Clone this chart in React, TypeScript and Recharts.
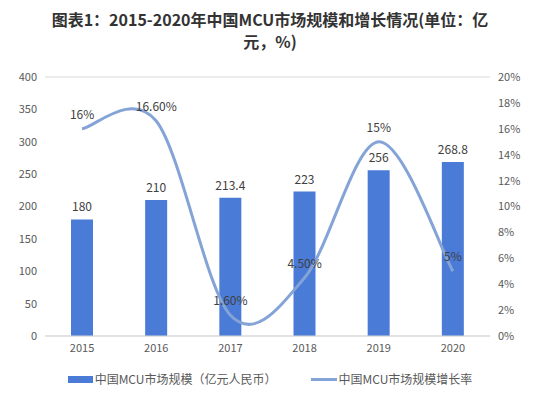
import React from "react";
import {
  ComposedChart,
  Bar,
  Line,
  XAxis,
  YAxis,
  CartesianGrid,
  Legend,
  LabelList,
} from "recharts";

const years = ["2015", "2016", "2017", "2018", "2019", "2020"];
const marketSize = [180, 210, 213.4, 223, 256, 268.8];
const growth = [16, 16.6, 1.6, 4.5, 15, 5];
const growthLabels = ["16%", "16.60%", "1.60%", "4.50%", "15%", "5%"];
const leftTicks = [0, 50, 100, 150, 200, 250, 300, 350, 400];
const rightTicks = [0, 2, 4, 6, 8, 10, 12, 14, 16, 18, 20];

const data = years.map((year, i) => ({
  year,
  size: marketSize[i],
  growth: growth[i],
  growthLabel: growthLabels[i],
}));

const barColor = "#4a7bd6";
const lineColor = "#84a3d6";
const font = "'Noto Sans CJK SC', 'Noto Sans', sans-serif";

// Catmull-Rom style smoothing, close to the spreadsheet "smoothed line"
const smoothCurve = (ctx: any) => {
  let pts: [number, number][] = [];
  return {
    areaStart() {},
    areaEnd() {},
    lineStart() {
      pts = [];
    },
    point(x: number, y: number) {
      pts.push([x, y]);
    },
    lineEnd() {
      if (!pts.length) return;
      ctx.moveTo(pts[0][0], pts[0][1]);
      for (let i = 0; i < pts.length - 1; i++) {
        const p0 = pts[i - 1] || pts[i];
        const p1 = pts[i];
        const p2 = pts[i + 1];
        const p3 = pts[i + 2] || p2;
        const c1x = p1[0] + (p2[0] - p0[0]) / 6;
        const c1y = p1[1] + (p2[1] - p0[1]) / 6;
        const c2x = p2[0] - (p3[0] - p1[0]) / 6;
        const c2y = p2[1] - (p3[1] - p1[1]) / 6;
        ctx.bezierCurveTo(c1x, c1y, c2x, c2y, p2[0], p2[1]);
      }
    },
  };
};

const renderLegend = () => (
  <div
    style={{
      display: "flex",
      justifyContent: "center",
      gap: 34,
      fontFamily: font,
      fontSize: 12,
      lineHeight: "20px",
      color: "#595959",
    }}
  >
    <span style={{ display: "flex", alignItems: "center" }}>
      <span
        style={{
          display: "inline-block",
          width: 25,
          height: 7,
          background: barColor,
          marginRight: 2,
        }}
      />
      中国MCU市场规模（亿元人民币）
    </span>
    <span style={{ display: "flex", alignItems: "center" }}>
      <span
        style={{
          display: "inline-block",
          width: 26,
          height: 3,
          background: lineColor,
          marginRight: 2,
        }}
      />
      中国MCU市场规模增长率
    </span>
  </div>
);

export default function App() {
  return (
    <div
      style={{
        position: "absolute",
        left: 0,
        top: 0,
        width: 540,
        height: 394,
        background: "#fff",
      }}
    >
      <div
        style={{
          position: "absolute",
          top: 8,
          left: 0,
          width: 540,
          textAlign: "center",
          fontFamily: font,
          fontWeight: "bold",
          fontSize: 16,
          lineHeight: "22px",
          color: "#333",
        }}
      >
        <div>图表1：2015-2020年中国MCU市场规模和增长情况(单位：亿</div>
        <div>元，%)</div>
      </div>
      <ComposedChart
        width={540}
        height={394}
        data={data}
        margin={{ top: 77, right: 0, left: 0, bottom: 2 }}
      >
        <CartesianGrid vertical={false} stroke="#d9d9d9" />
        <XAxis
          dataKey="year"
          tickLine={false}
          axisLine={{ stroke: "#d9d9d9" }}
          tick={{ fill: "#595959", fontSize: 11, fontFamily: font }}
          height={26}
        />
        <YAxis
          yAxisId="left"
          domain={[0, 400]}
          ticks={leftTicks}
          width={45}
          axisLine={false}
          tickLine={false}
          tick={{ fill: "#595959", fontSize: 11, fontFamily: font }}
        />
        <YAxis
          yAxisId="right"
          orientation="right"
          domain={[0, 20]}
          ticks={rightTicks}
          width={50}
          axisLine={false}
          tickLine={false}
          tickFormatter={(v: number) => `${v}%`}
          tick={{ fill: "#595959", fontSize: 11, fontFamily: font }}
        />
        <Legend
          content={renderLegend}
          verticalAlign="bottom"
          height={30}
          wrapperStyle={{ top: 369, bottom: "auto" }}
        />
        <Bar
          yAxisId="left"
          dataKey="size"
          fill={barColor}
          barSize={22}
          isAnimationActive={false}
        >
          <LabelList
            dataKey="size"
            position="top"
            offset={8}
            style={{ fill: "#404040", fontSize: 12, fontFamily: font }}
          />
        </Bar>
        <Line
          yAxisId="right"
          type={smoothCurve as any}
          dataKey="growth"
          stroke={lineColor}
          strokeWidth={3}
          dot={false}
          isAnimationActive={false}
        >
          <LabelList
            dataKey="growthLabel"
            position="top"
            offset={10}
            style={{ fill: "#404040", fontSize: 12, fontFamily: font }}
          />
        </Line>
      </ComposedChart>
    </div>
  );
}
